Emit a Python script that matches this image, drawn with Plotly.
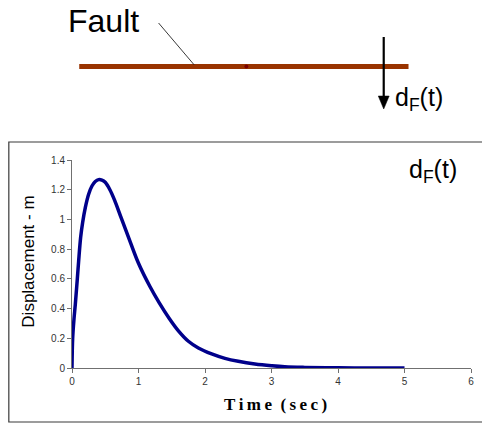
import plotly.graph_objects as go

# ---- data ----
time_sec = [0, 0.01, 0.03, 0.05, 0.08, 0.1, 0.13, 0.16, 0.2, 0.25, 0.3, 0.35, 0.4, 0.45,
            0.5, 0.57, 0.64, 0.74, 0.85, 1.0, 1.17, 1.31, 1.46, 1.6, 1.75, 1.9, 2.1,
            2.3, 2.5, 2.75, 3.0, 3.2, 3.5, 4.0, 4.5, 5.0]
displacement_m = [0, 0.2, 0.33, 0.43, 0.6, 0.72, 0.88, 0.98, 1.08, 1.17, 1.225, 1.255,
                  1.268, 1.265, 1.25, 1.2, 1.13, 1.01, 0.88, 0.705, 0.55, 0.44, 0.335,
                  0.25, 0.18, 0.135, 0.095, 0.065, 0.045, 0.027, 0.015, 0.008, 0.004,
                  0.001, 0.0, 0.0]
x_ticks = [0, 1, 2, 3, 4, 5, 6]
y_ticks = [0, 0.2, 0.4, 0.6, 0.8, 1, 1.2, 1.4]
y_tick_text = ["0", "0.2", "0.4", "0.6", "0.8", "1", "1.2", "1.4"]

# ---- layout geometry (pixels) ----
W, H = 482, 423
L, R = 71.7, 474.0   # plot area x pixels
T, B = 160.0, 368.0  # plot area y pixels


def px(x):
    return (x - L) / (R - L)


def py(y):
    return (B - y) / (B - T)


fig = go.Figure()
fig.add_trace(go.Scatter(
    x=time_sec, y=displacement_m, mode="lines",
    line=dict(color="#00008B", width=3.5, shape="spline", smoothing=1.0),
    hoverinfo="skip", showlegend=False,
))

shapes = [
    # outer frame of chart
    dict(type="rect", xref="paper", yref="paper",
         x0=px(8), x1=px(495), y0=py(142), y1=py(422),
         line=dict(color="#3a3a3a", width=1.2), layer="below"),
    # fault line
    dict(type="line", xref="paper", yref="paper",
         x0=px(79), x1=px(411), y0=py(66.5), y1=py(66.5),
         line=dict(color="#993300", width=5)),
    # dot on fault
    dict(type="circle", xref="paper", yref="paper",
         x0=px(245.5), x1=px(249.5), y0=py(64.5), y1=py(68.5),
         fillcolor="#7a0000", line=dict(width=0)),
    # leader line
    dict(type="line", xref="paper", yref="paper",
         x0=px(159), x1=px(195), y0=py(23), y1=py(65),
         line=dict(color="#222222", width=0.9)),
    # arrow shaft
    dict(type="line", xref="paper", yref="paper",
         x0=px(386), x1=px(386), y0=py(37), y1=py(100),
         line=dict(color="black", width=2.2)),
    # arrow head
    dict(type="path", xref="paper", yref="paper",
         path=f"M {px(380.5)} {py(96)} L {px(391.5)} {py(96)} L {px(386)} {py(109)} Z",
         fillcolor="black", line=dict(color="black", width=0.5)),
]

annotations = [
    dict(text="Fault", xref="paper", yref="paper", x=px(66), y=py(20.5),
         xanchor="left", yanchor="middle", showarrow=False,
         font=dict(family="Liberation Sans, Arial", size=32, color="black")),
    dict(text="d<sub>F</sub>(t)", xref="paper", yref="paper", x=px(395), y=py(99),
         xanchor="left", yanchor="middle", showarrow=False,
         font=dict(family="Liberation Sans, Arial", size=25, color="black")),
    dict(text="d<sub>F</sub>(t)", xref="paper", yref="paper", x=px(409), y=py(171),
         xanchor="left", yanchor="middle", showarrow=False,
         font=dict(family="Liberation Sans, Arial", size=25, color="black")),
    dict(text="Displacement - m", xref="paper", yref="paper", x=px(27), y=py(262),
         xanchor="center", yanchor="middle", showarrow=False, textangle=-90,
         font=dict(family="Liberation Sans, Arial", size=17, color="black")),
    dict(text="<b>T\u2009i\u2009m\u2009e\u2002(\u2009s\u2009e\u2009c\u2009)</b>",
         xref="paper", yref="paper", x=px(277), y=py(404),
         xanchor="center", yanchor="middle", showarrow=False,
         font=dict(family="Liberation Serif, Times New Roman", size=17, color="black")),
]

fig.update_layout(
    width=W, height=H,
    margin=dict(l=L, r=W - R, t=T, b=H - B, pad=0),
    paper_bgcolor="white", plot_bgcolor="white",
    shapes=shapes, annotations=annotations,
    xaxis=dict(range=[0, 6], tickvals=x_ticks, showgrid=False, zeroline=False,
               showline=True, linecolor="#707070", linewidth=1,
               ticks="outside", ticklen=4, tickcolor="#707070",
               tickfont=dict(family="Liberation Sans, Arial", size=10, color="#333333")),
    yaxis=dict(range=[0, 1.4], tickvals=y_ticks, ticktext=y_tick_text,
               showgrid=False, zeroline=False,
               showline=True, linecolor="#707070", linewidth=1,
               ticks="outside", ticklen=4, tickcolor="#707070",
               tickfont=dict(family="Liberation Sans, Arial", size=10, color="#333333")),
)

fig.write_html("out.html")
